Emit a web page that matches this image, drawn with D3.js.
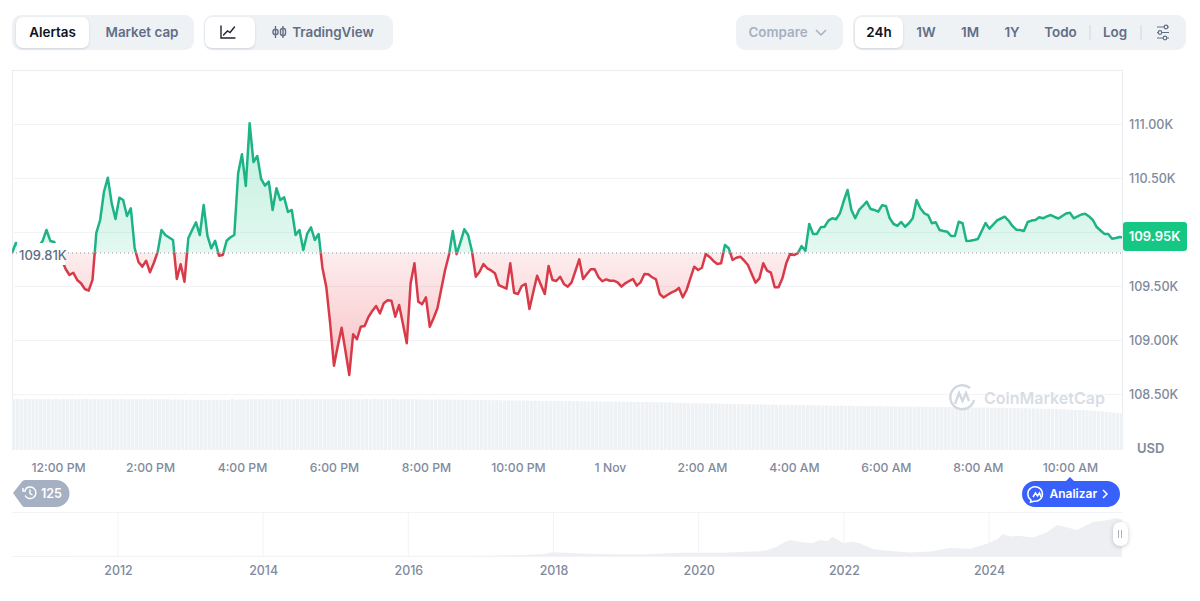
<!DOCTYPE html>
<html lang="es">
<head>
<meta charset="utf-8">
<title>Precio intradía</title>
<script src="https://cdn.jsdelivr.net/npm/d3@7/dist/d3.min.js"></script>
<style>
  html, body { margin: 0; padding: 0; background: #fff; }
  svg { display: block; font-family: Inter, "Noto Sans", sans-serif; }
  text { font-kerning: normal; }
</style>
</head>
<body>
<svg id="chart" width="1200" height="601"></svg>
<script>
// Prices in thousands of USD, one reading every five minutes from 11:00 on 31 Oct.
const prices = [
  109.806,109.898,109.870,109.833,109.815,109.833,109.852,109.870,109.917,110.019,
  109.917,109.907,109.833,109.741,109.657,109.602,109.623,109.556,109.525,109.472,
  109.457,109.556,109.991,110.111,110.373,110.503,110.269,110.120,110.318,110.296,
  110.148,110.219,109.852,109.722,109.679,109.734,109.627,109.713,109.815,110.019,
  109.972,109.949,109.926,109.565,109.701,109.540,109.942,110.019,110.090,109.972,
  110.250,109.963,109.849,109.919,109.781,109.787,109.919,109.951,109.972,110.544,
  110.719,110.426,111.006,110.648,110.704,110.491,110.429,110.466,110.204,110.405,
  110.296,110.321,110.185,110.204,109.972,110.019,109.833,109.982,110.044,109.926,
  109.982,109.667,109.491,109.157,108.762,108.944,109.114,108.898,108.676,109.053,
  109.007,109.123,109.130,109.213,109.269,109.315,109.247,109.340,109.368,109.364,
  109.216,109.324,109.148,108.970,109.525,109.710,109.355,109.331,109.395,109.123,
  109.204,109.294,109.472,109.648,109.787,110.009,109.794,109.907,110.025,109.972,
  109.824,109.586,109.632,109.704,109.664,109.644,109.618,109.509,109.491,109.475,
  109.710,109.438,109.426,109.500,109.519,109.287,109.444,109.595,109.509,109.426,
  109.685,109.556,109.546,109.586,109.519,109.494,109.534,109.639,109.747,109.565,
  109.611,109.655,109.655,109.583,109.544,109.562,109.549,109.549,109.534,109.494,
  109.525,109.546,109.565,109.503,109.534,109.611,109.608,109.581,109.562,109.426,
  109.394,109.417,109.438,109.454,109.482,109.395,109.463,109.574,109.679,109.648,
  109.669,109.796,109.769,109.732,109.704,109.710,109.880,109.849,109.741,109.762,
  109.771,109.736,109.694,109.611,109.531,109.571,109.710,109.642,109.623,109.488,
  109.488,109.571,109.710,109.796,109.787,109.803,109.870,109.827,110.074,109.982,
  109.982,110.044,110.049,110.105,110.127,110.118,110.173,110.287,110.389,110.204,
  110.127,110.204,110.241,110.281,110.213,110.204,110.188,110.247,110.241,110.127,
  110.074,110.058,110.093,110.049,110.081,110.127,110.296,110.219,110.173,110.157,
  110.081,110.090,110.019,110.009,110.003,109.963,109.963,110.095,110.081,109.917,
  109.919,109.926,109.935,110.009,110.083,110.031,110.069,110.108,110.125,110.142,
  110.106,110.056,110.021,110.019,110.009,110.093,110.106,110.111,110.136,110.127,
  110.144,110.157,110.139,110.125,110.148,110.171,110.179,110.127,110.144,110.162,
  110.169,110.144,110.111,110.046,110.014,109.982,109.982,109.938,109.944,109.954,
  109.950
];

// Traded volume in billions of USD for the same five-minute readings.
const volumes = [
  50.9,51.1,50.7,51.2,51.0,50.8,51.3,50.9,51.1,51.0,50.7,51.1,50.8,51.2,50.9,51.0,
  50.7,51.1,50.9,51.2,50.8,51.0,51.1,50.7,50.9,51.2,51.0,50.8,51.1,50.9,50.7,51.0,
  51.1,50.8,50.9,50.6,51.0,50.8,51.1,50.7,50.9,50.4,50.8,50.3,50.6,50.2,50.5,50.1,
  50.4,50.2,50.0,50.3,50.1,50.4,49.9,50.2,50.1,50.9,50.3,50.6,50.5,50.8,50.6,50.9,
  50.7,51.0,50.8,50.6,50.9,50.7,51.0,50.8,51.1,50.9,51.0,50.7,51.1,50.9,50.8,51.1,
  51.0,50.7,50.9,51.1,50.8,51.0,50.7,50.9,51.1,50.8,51.0,50.6,50.9,50.7,51.0,50.8,
  51.1,50.7,50.9,51.0,50.6,50.8,51.0,50.7,50.9,50.6,50.8,50.5,50.7,50.4,50.6,50.8,
  50.4,50.6,50.3,50.5,50.2,50.4,50.1,50.3,50.1,49.8,50.2,49.9,50.1,49.7,50.0,49.8,
  49.5,49.8,49.6,49.4,49.7,49.4,49.6,49.2,49.5,49.3,49.1,49.4,49.2,49.0,49.3,49.1,
  48.9,49.2,48.8,49.0,48.7,48.9,48.6,48.8,48.5,48.7,48.4,48.6,48.3,48.5,48.2,48.4,
  48.1,48.3,48.0,48.2,47.9,48.1,47.8,48.0,47.7,47.9,47.6,47.8,47.5,47.2,47.4,47.0,
  47.2,46.8,47.0,46.6,46.8,46.4,46.7,46.3,46.5,46.1,46.3,46.0,46.2,45.8,46.0,45.7,
  45.9,45.6,45.8,45.5,45.7,45.3,45.5,45.2,45.4,45.1,45.3,44.9,45.1,44.8,45.0,44.7,
  44.9,44.6,44.8,44.4,44.6,44.3,44.5,44.2,44.4,44.1,44.3,44.0,44.2,43.9,44.1,43.8,
  44.0,43.7,43.9,43.6,43.8,43.5,43.7,43.4,43.6,43.3,43.5,43.2,43.4,43.1,43.3,43.0,
  43.2,42.9,43.1,42.8,43.0,42.7,42.9,42.6,42.8,42.5,42.7,42.4,42.6,42.3,42.5,42.2,
  42.4,42.1,42.3,42.0,42.2,41.9,42.1,41.7,41.9,41.5,41.7,41.3,41.5,41.1,41.3,40.9,
  41.1,40.7,40.9,40.5,40.3,40.1,39.9,40.1,39.7,39.5,39.3,38.9,38.5,38.1,37.7,37.3,37.0,36.7
];

// Long-range price history for the range navigator.
const historyYears = [
  2010.6,2016.9,2017.26,2017.6,2017.88,2017.98,2018.16,2018.37,2018.8,2019.19,2019.5,2019.74,
  2020.29,2020.85,2020.95,2021.07,2021.17,2021.26,2021.40,2021.56,2021.67,2021.78,2021.84,2021.92,
  2021.99,2022.1,2022.22,2022.40,2022.6,2022.91,2023.2,2023.46,2023.75,2023.99,2024.12,2024.19,
  2024.30,2024.40,2024.61,2024.8,2024.94,2025.08,2025.21,2025.43,2025.6,2025.76,2025.83
];
const historyPrices = [
  0.1,0.8,1.4,3,6,11,9,7,5,4,7,9,
  9,14,17,26,38,46,40,37,46,43,55,47,
  37,41,37,20,15,10,13,23,21,37,49,63,
  56,58,53,68,89,82,75,98,102,109,104
];

const priceTicks = [108.5, 109, 109.5, 110, 110.5, 111];
const priceTickLabels = priceTicks.filter(v => v !== 110);
const openPrice = 109.81;
const lastPrice = 109.95;
const navigatorYears = [2012, 2014, 2016, 2018, 2020, 2022, 2024];

const palette = {
  up: "#1eb386", down: "#d93a49", tag: "#16c784", grid: "#f1f3f6", frame: "#e9ecf1",
  bar: "#eff2f5", axis: "#7f8a9d", strong: "#0d1421", muted: "#616e85", faint: "#a6b0c3",
  blue: "#3861fb"
};

const svg = d3.select("#chart");
const defs = svg.append("defs");

const startTime = Date.UTC(2025, 9, 31, 11, 0);
const FIVE_MIN = 5 * 60 * 1000;
const timeOf = i => new Date(startTime + i * FIVE_MIN);

const x = d3.scaleUtc().domain([new Date(startTime), new Date(Date.UTC(2025, 10, 1, 11, 8))]).range([12, 1122]);
const y = d3.scaleLinear().domain([108.5, 111]).range([394, 124]);
const yVolume = d3.scaleLinear().domain([0, 51]).range([450, 399]);
const xHistory = d3.scaleLinear().domain([2012, 2024]).range([118, 989]);
const yHistory = d3.scaleLinear().domain([0, 115]).range([556, 516]);

const base = y(openPrice);

/* ---------- toolbar ---------- */
const toolbar = svg.append("g");
function pill(px, py, w, h, r, fill, shadow) {
  const p = toolbar.append("rect").attr("x", px).attr("y", py).attr("width", w).attr("height", h)
    .attr("rx", r).attr("fill", fill);
  if (shadow) p.style("filter", "drop-shadow(0 1px 1px rgba(88,102,126,.22))");
  return p;
}
function label(cx, text, fill, weight) {
  toolbar.append("text").attr("x", cx).attr("y", 37).attr("text-anchor", "middle")
    .attr("font-size", 13.4).attr("font-weight", weight).attr("fill", fill).text(text);
}
pill(12, 15, 182, 35, 9, palette.bar);
pill(16, 17, 73, 31, 7, "#fff", true);
label(52.5, "Alertas", palette.strong, 600);
label(142, "Market cap", palette.muted, 600);

pill(204, 15, 189, 35, 9, palette.bar);
pill(205, 17, 50, 31, 7, "#fff", true);
toolbar.append("path").attr("d", "M221 26v12h14M223.5 35l4-4 2.5 1.5 4.5-5.5")
  .attr("fill", "none").attr("stroke", "#222531").attr("stroke-width", 1.4).attr("stroke-linecap", "round");
toolbar.append("g").attr("fill", "none").attr("stroke", palette.muted).attr("stroke-width", 1.4).call(g => {
  g.append("path").attr("d", "M275.5 26v12M283 26v12");
  g.append("rect").attr("x", 273).attr("y", 29.5).attr("width", 5).attr("height", 5).attr("rx", 2);
  g.append("rect").attr("x", 280.5).attr("y", 28.5).attr("width", 5).attr("height", 7).attr("rx", 2);
});
label(333, "TradingView", palette.muted, 600);

pill(736, 15, 107, 35, 9, palette.bar);
label(778, "Compare", palette.faint, 600);
toolbar.append("path").attr("d", "M816 30l5 5 5-5").attr("fill", "none").attr("stroke", palette.faint).attr("stroke-width", 1.5);

pill(853, 15, 333, 35, 9, palette.bar);
pill(855, 17, 48, 31, 7, "#fff", true);
label(879, "24h", palette.strong, 600);
label(926, "1W", palette.muted, 600);
label(970, "1M", palette.muted, 600);
label(1012, "1Y", palette.muted, 600);
label(1060.5, "Todo", palette.muted, 600);
label(1115, "Log", palette.muted, 600);
toolbar.append("path").attr("d", "M1090 25v15M1141 25v15").attr("stroke", "#cfd6e4").attr("stroke-width", 1);
toolbar.append("path").attr("d", "M1157 27h12M1157 32.5h12M1157 38h12").attr("stroke", palette.muted).attr("stroke-width", 1.2);
toolbar.selectAll("circle.knob").data([[1166, 27], [1160, 32.5], [1165, 38]]).join("circle")
  .attr("cx", d => d[0]).attr("cy", d => d[1]).attr("r", 1.8).attr("fill", palette.bar)
  .attr("stroke", palette.muted).attr("stroke-width", 1.2);

/* ---------- plot frame and grid ---------- */
const frame = svg.append("g").attr("fill", "none").attr("stroke", palette.frame);
frame.append("path").attr("d", "M12 70.5H1122.5V450M12.5 70V450");

svg.append("g").selectAll("line").data(priceTicks).join("line")
  .attr("x1", 12).attr("x2", 1122)
  .attr("y1", d => Math.round(y(d)) + 0.5).attr("y2", d => Math.round(y(d)) + 0.5)
  .attr("stroke", palette.grid);

/* ---------- volume bars ---------- */
const barStep = x(timeOf(1)) - x(timeOf(0));
svg.append("g").selectAll("rect").data(volumes).join("rect")
  .attr("x", (d, i) => x(timeOf(i)) + 0.2)
  .attr("width", barStep - 0.5)
  .attr("y", d => yVolume(d))
  .attr("height", d => yVolume(0) - yVolume(d))
  .attr("fill", palette.bar);

/* ---------- price line, split at the opening price ---------- */
const upClip = defs.append("clipPath").attr("id", "above");
upClip.append("rect").attr("x", 12).attr("y", 70).attr("width", 1110).attr("height", base - 70);
const downClip = defs.append("clipPath").attr("id", "below");
downClip.append("rect").attr("x", 12).attr("y", base).attr("width", 1110).attr("height", 450 - base);

function gradient(id, color, y1, y2, o1, o2) {
  const g = defs.append("linearGradient").attr("id", id).attr("gradientUnits", "userSpaceOnUse")
    .attr("x1", 0).attr("x2", 0).attr("y1", y1).attr("y2", y2);
  g.append("stop").attr("offset", 0).attr("stop-color", color).attr("stop-opacity", o1);
  g.append("stop").attr("offset", 1).attr("stop-color", color).attr("stop-opacity", o2);
}
gradient("fillUp", "#16c784", y(111), base, 0.27, 0.12);
gradient("fillDown", "#ea3943", base, y(108.75), 0.09, 0.3);

const area = d3.area().x((d, i) => x(timeOf(i))).y0(base).y1(d => y(d));
const line = d3.line().x((d, i) => x(timeOf(i))).y(d => y(d));

[["above", "fillUp", palette.up], ["below", "fillDown", palette.down]].forEach(([clip, fill, stroke]) => {
  const g = svg.append("g").attr("clip-path", `url(#${clip})`);
  g.append("path").datum(prices).attr("d", area).attr("fill", `url(#${fill})`);
  g.append("path").datum(prices).attr("d", line).attr("fill", "none")
    .attr("stroke", stroke).attr("stroke-width", 2.5).attr("stroke-linejoin", "round");
});

svg.append("line").attr("x1", 12).attr("x2", 1122).attr("y1", base + 0.5).attr("y2", base + 0.5)
  .attr("stroke", "#8a93a3").attr("stroke-width", 1).attr("stroke-dasharray", "1 3");

/* ---------- opening price label ---------- */
svg.append("rect").attr("x", 17).attr("y", 243).attr("width", 48).attr("height", 22).attr("fill", "#fff");
svg.append("text").attr("x", 19).attr("y", 260).attr("font-size", 13).attr("font-weight", 500)
  .attr("fill", palette.muted).text(openPrice.toFixed(2) + "K");

/* ---------- axes ---------- */
const priceAxis = d3.axisRight(y).tickValues(priceTickLabels)
  .tickFormat(d => d.toFixed(2) + "K").tickSize(0).tickPadding(7);
const priceG = svg.append("g").attr("transform", "translate(1122,0)").call(priceAxis);
priceG.select(".domain").remove();

const hourTicks = d3.range(0, 12).map(i => new Date(Date.UTC(2025, 9, 31, 12 + i * 2, 0)));
const fmtHour = d3.utcFormat("%-I:%M %p");
const timeAxis = d3.axisBottom(x).tickValues(hourTicks)
  .tickFormat(d => d.getUTCHours() === 0 ? "1 Nov" : fmtHour(d)).tickSize(0).tickPadding(0);
const timeG = svg.append("g").attr("transform", "translate(0,463)").call(timeAxis);
timeG.select(".domain").remove();

const historyAxis = d3.axisBottom(xHistory).tickValues(navigatorYears).tickFormat(d3.format("d")).tickSize(0).tickPadding(0);
const historyG = svg.append("g").attr("transform", "translate(0,566)").call(historyAxis);
historyG.select(".domain").remove();

[[priceG, 12.6], [timeG, 12.2], [historyG, 12.4]].forEach(([g, size]) => g.selectAll("text")
  .attr("font-family", "Inter, 'Noto Sans', sans-serif").attr("font-size", size).attr("font-weight", 500)
  .attr("fill", palette.axis));

svg.append("text").attr("x", 1137).attr("y", 453).attr("font-size", 13).attr("font-weight", 600)
  .attr("fill", palette.axis).text("USD");

/* ---------- last price tag ---------- */
svg.append("rect").attr("x", 1123).attr("y", 222).attr("width", 64).attr("height", 29).attr("rx", 3).attr("fill", palette.tag);
svg.append("text").attr("x", 1154.5).attr("y", 241).attr("text-anchor", "middle").attr("font-size", 13)
  .attr("font-weight", 600).attr("fill", "#fff").text(lastPrice.toFixed(2) + "K");

/* ---------- watermark ---------- */
const mark = svg.append("g").attr("fill", "none").attr("stroke", "#d3d8e0").attr("stroke-width", 2.4);
mark.append("path").attr("d", "M974 400a12 12 0 1 1 -4 -12");
mark.append("path").attr("d", "M955 404l4 -11 3.5 8 3.5 -8 3 8");
svg.append("text").attr("x", 984).attr("y", 404).attr("font-size", 16).attr("font-weight", 600)
  .attr("fill", "#d8dde4").text("CoinMarketCap");

/* ---------- note badge and analysis button ---------- */
svg.append("path").attr("d", "M13 493L22 481.5Q23 480 25 480H56A13.5 13.5 0 0 1 56 507H25Q23 507 22 505.5Z").attr("fill", palette.faint);
svg.append("g").attr("fill", "none").attr("stroke", "#fff").attr("stroke-width", 1.4).call(g => {
  g.append("path").attr("d", "M25 490a5.8 5.8 0 1 1 0 5.5");
  g.append("path").attr("d", "M30 489.5v4l2.5 1.5M23 488v3h3");
});
svg.append("text").attr("x", 41).attr("y", 498).attr("font-size", 12.5).attr("font-weight", 600).attr("fill", "#fff").text("125");

svg.append("path").attr("d", "M1035 481H1066L1070 477 1074 481H1107A13 13 0 0 1 1107 507H1035A13 13 0 0 1 1035 481Z").attr("fill", palette.blue);
svg.append("g").attr("fill", "none").attr("stroke", "#fff").attr("stroke-width", 1.5).call(g => {
  g.append("path").attr("d", "M1031 500a7.3 7.3 0 1 1 3 1.2l-3.5 1Z");
  g.append("path").attr("d", "M1033 497l2.5-4 2 3 2-3 1.5 4");
  g.append("path").attr("d", "M1103 490l4 4-4 4");
});
svg.append("text").attr("x", 1049.5).attr("y", 498).attr("font-size", 12).attr("font-weight", 600).attr("fill", "#fff").text("Analizar");

/* ---------- range navigator ---------- */
svg.append("g").selectAll("line").data(navigatorYears).join("line")
  .attr("x1", d => xHistory(d)).attr("x2", d => xHistory(d)).attr("y1", 513).attr("y2", 556)
  .attr("stroke", palette.grid);
svg.append("path").attr("d", "M12 512.5H1122M12 556.5H1122").attr("stroke", palette.grid).attr("fill", "none");

const historyArea = d3.area().x((d, i) => xHistory(historyYears[i])).y0(yHistory(0)).y1(d => yHistory(d));
svg.append("path").datum(historyPrices).attr("d", historyArea).attr("fill", "#edeff2");

svg.append("rect").attr("x", 1113).attr("y", 522).attr("width", 15).attr("height", 24).attr("rx", 7)
  .attr("fill", "#fff").style("filter", "drop-shadow(0 1px 2px rgba(88,102,126,.35))");
svg.append("path").attr("d", "M1118.5 530v8M1121.5 530v8").attr("stroke", "#a6b0c3").attr("stroke-width", 1);
</script>
</body>
</html>
